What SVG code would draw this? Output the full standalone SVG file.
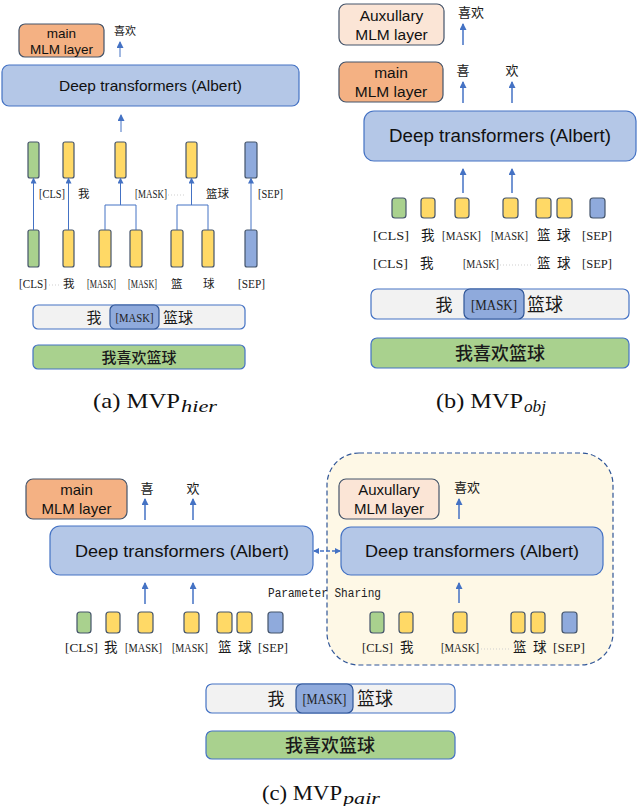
<svg xmlns="http://www.w3.org/2000/svg" width="640" height="806" viewBox="0 0 640 806">
<style>
.bg{fill:#ffffff}
.dt{fill:#B4C7E7;stroke:#4472C4;stroke-width:1.2}
.main{fill:#F4B183;stroke:#44546A;stroke-width:1.2}
.aux{fill:#FBE5D6;stroke:#44546A;stroke-width:1.2}
.tg{fill:#A9D18E;stroke:#44546A;stroke-width:1.2}
.ty{fill:#FFD966;stroke:#44546A;stroke-width:1.2}
.tb{fill:#8FAADC;stroke:#44546A;stroke-width:1.2}
.inp{fill:#F2F2F2;stroke:#4472C4;stroke-width:1.2}
.msk{fill:#8FAADC;stroke:#2F5597;stroke-width:1.2}
.grn{fill:#A9D18E;stroke:#4472C4;stroke-width:1.2}
.sans{font-family:"Liberation Sans","Noto Sans",Arial,sans-serif;fill:#111}
.cjk{font-family:"Noto Sans CJK SC",sans-serif;fill:#1a1a1a}
.lab{font-family:"Liberation Serif","Noto Sans CJK SC",serif;fill:#222}
.cap{font-family:"Liberation Serif",serif;fill:#111}
.mono{font-family:"Liberation Mono",monospace;fill:#222}
.con{stroke:#4472C4;fill:none}
.dots{stroke:#cfcfcf;stroke-dasharray:1 2;stroke-width:1}
</style>
<defs>
<marker id="ah" markerUnits="userSpaceOnUse" markerWidth="7" markerHeight="7" refX="6" refY="3.5" orient="auto">
<path d="M0,0 L7,3.5 L0,7 z" fill="#4472C4"/>
</marker>
<marker id="ahs" markerUnits="userSpaceOnUse" markerWidth="6" markerHeight="6" refX="5" refY="3" orient="auto-start-reverse">
<path d="M0,0 L6,3 L0,6 z" fill="#4472C4"/>
</marker>
</defs>
<rect class="bg" x="0" y="0" width="640" height="806"/>

<!-- ===== Panel (a) ===== -->
<g id="a-main">
<rect class="main" x="19" y="24" width="85" height="33" rx="6"/>
<text class="sans" x="61.5" y="38" font-size="13.5" text-anchor="middle">main</text>
<text class="sans" x="61.5" y="53.5" font-size="13.5" text-anchor="middle">MLM layer</text>
</g>
<g id="a-out"><text class="cjk" x="114" y="35" font-size="11">喜欢</text></g>
<g id="a-dt">
<rect class="dt" x="2" y="65" width="297" height="41" rx="7"/>
<text class="sans" x="150.5" y="91" font-size="14.5" text-anchor="middle" textLength="183" lengthAdjust="spacingAndGlyphs">Deep transformers (Albert)</text>
</g>
<g id="a-top-tokens">
<rect class="tg" x="28" y="142" width="11" height="36" rx="2"/>
<rect class="ty" x="63" y="142" width="11" height="36" rx="2"/>
<rect class="ty" x="115" y="142" width="11" height="36" rx="2"/>
<rect class="ty" x="186" y="142" width="11" height="36" rx="2"/>
<rect class="tb" x="245" y="142" width="12" height="36" rx="2"/>
</g>
<g id="a-mid-labels">
<text class="lab" x="39" y="198" font-size="12.5" textLength="26" lengthAdjust="spacingAndGlyphs">[CLS]</text>
<text class="cjk" x="78" y="198" font-size="11.5">我</text>
<text class="lab" x="135" y="198" font-size="12.5" textLength="32" lengthAdjust="spacingAndGlyphs">[MASK]</text>
<text class="cjk" x="206" y="198" font-size="11.5">篮球</text>
<text class="lab" x="258" y="198" font-size="12.5" textLength="25" lengthAdjust="spacingAndGlyphs">[SEP]</text>
</g>
<g id="a-bottom-tokens">
<rect class="tg" x="28" y="230" width="11" height="37" rx="2"/>
<rect class="ty" x="63" y="230" width="11" height="37" rx="2"/>
<rect class="ty" x="99" y="230" width="12" height="37" rx="2"/>
<rect class="ty" x="130" y="230" width="12" height="37" rx="2"/>
<rect class="ty" x="171" y="230" width="12" height="37" rx="2"/>
<rect class="ty" x="202" y="230" width="12" height="37" rx="2"/>
<rect class="tb" x="245" y="230" width="12" height="37" rx="2"/>
</g>
<g id="a-bottom-labels">
<text class="lab" x="19" y="288" font-size="12.5" textLength="28" lengthAdjust="spacingAndGlyphs">[CLS]</text>
<text class="cjk" x="63" y="288" font-size="11.5">我</text>
<text class="lab" x="87" y="288" font-size="12.5" textLength="29" lengthAdjust="spacingAndGlyphs">[MASK]</text>
<text class="lab" x="128" y="288" font-size="12.5" textLength="29" lengthAdjust="spacingAndGlyphs">[MASK]</text>
<text class="cjk" x="171" y="288" font-size="11.5">篮</text>
<text class="cjk" x="203" y="288" font-size="11.5">球</text>
<text class="lab" x="238" y="288" font-size="12.5" textLength="27" lengthAdjust="spacingAndGlyphs">[SEP]</text>
</g>
<g id="a-input">
<rect class="inp" x="33" y="305" width="212" height="24" rx="5"/>
<rect class="msk" x="110" y="305" width="49" height="24" rx="5"/>
<text class="cjk" x="94" y="322.5" font-size="15" text-anchor="middle">我</text>
<text class="lab" x="134.5" y="321.5" font-size="12.5" text-anchor="middle" textLength="38" lengthAdjust="spacingAndGlyphs">[MASK]</text>
<text class="cjk" x="163" y="322.5" font-size="15">篮球</text>
</g>
<g id="a-target">
<rect class="grn" x="33" y="345" width="212" height="24" rx="5"/>
<text class="cjk" x="139" y="362.5" font-size="15" font-weight="500" text-anchor="middle">我喜欢篮球</text>
</g>
<g id="a-caption">
<text class="cap" x="93" y="408" font-size="21" textLength="87" lengthAdjust="spacingAndGlyphs">(a) MVP</text>
<text class="cap" x="181" y="412" font-size="16" font-style="italic" textLength="36" lengthAdjust="spacingAndGlyphs">hier</text>
</g>

<!-- ===== Panel (b) ===== -->
<g id="b-aux">
<rect class="aux" x="339" y="4" width="105" height="41" rx="7"/>
<text class="sans" x="391.5" y="21" font-size="15.5" text-anchor="middle">Auxullary</text>
<text class="sans" x="391.5" y="40" font-size="15.5" text-anchor="middle">MLM layer</text>
</g>
<g id="b-aux-out"><text class="cjk" x="458" y="17" font-size="13">喜欢</text></g>
<g id="b-main">
<rect class="main" x="339" y="62" width="104" height="40" rx="7"/>
<text class="sans" x="391" y="78" font-size="15.5" text-anchor="middle">main</text>
<text class="sans" x="391" y="97" font-size="15.5" text-anchor="middle">MLM layer</text>
</g>
<g id="b-main-out">
<text class="cjk" x="463" y="75" font-size="13" text-anchor="middle">喜</text>
<text class="cjk" x="512" y="75" font-size="13" text-anchor="middle">欢</text>
</g>
<g id="b-dt">
<rect class="dt" x="364" y="111" width="272" height="50" rx="10"/>
<text class="sans" x="500" y="142" font-size="17.5" text-anchor="middle" textLength="222" lengthAdjust="spacingAndGlyphs">Deep transformers (Albert)</text>
</g>
<g id="b-tokens">
<rect class="tg" x="392" y="198" width="14" height="20" rx="3"/>
<rect class="ty" x="421" y="198" width="14" height="20" rx="3"/>
<rect class="ty" x="455" y="198" width="14" height="20" rx="3"/>
<rect class="ty" x="503" y="198" width="15" height="20" rx="3"/>
<rect class="ty" x="536" y="198" width="15" height="20" rx="3"/>
<rect class="ty" x="557" y="198" width="15" height="20" rx="3"/>
<rect class="tb" x="590" y="198" width="15" height="20" rx="3"/>
</g>
<g id="b-labels1">
<text class="lab" x="373" y="240" font-size="12.5" textLength="36" lengthAdjust="spacingAndGlyphs">[CLS]</text>
<text class="cjk" x="421" y="240" font-size="13.5">我</text>
<text class="lab" x="442" y="240" font-size="12.5" textLength="39" lengthAdjust="spacingAndGlyphs">[MASK]</text>
<text class="lab" x="491" y="240" font-size="12.5" textLength="37" lengthAdjust="spacingAndGlyphs">[MASK]</text>
<text class="cjk" x="537" y="240" font-size="13.5">篮</text>
<text class="cjk" x="557" y="240" font-size="13.5">球</text>
<text class="lab" x="582" y="240" font-size="12.5" textLength="30" lengthAdjust="spacingAndGlyphs">[SEP]</text>
</g>
<g id="b-labels2">
<text class="lab" x="373" y="268" font-size="12.5" textLength="35" lengthAdjust="spacingAndGlyphs">[CLS]</text>
<text class="cjk" x="420" y="268" font-size="13.5">我</text>
<text class="lab" x="463" y="268" font-size="12.5" textLength="36" lengthAdjust="spacingAndGlyphs">[MASK]</text>
<text class="cjk" x="537" y="268" font-size="13.5">篮</text>
<text class="cjk" x="557" y="268" font-size="13.5">球</text>
<text class="lab" x="582" y="268" font-size="12.5" textLength="30" lengthAdjust="spacingAndGlyphs">[SEP]</text>
</g>
<g id="b-input">
<rect class="inp" x="371" y="289" width="258" height="30" rx="6"/>
<rect class="msk" x="464" y="289" width="60" height="30" rx="6"/>
<text class="cjk" x="444" y="310.5" font-size="17" text-anchor="middle">我</text>
<text class="lab" x="494" y="309.5" font-size="15" text-anchor="middle" textLength="46" lengthAdjust="spacingAndGlyphs">[MASK]</text>
<text class="cjk" x="527" y="310.5" font-size="18">篮球</text>
</g>
<g id="b-target">
<rect class="grn" x="371" y="338" width="258" height="30" rx="6"/>
<text class="cjk" x="500" y="359.5" font-size="18" font-weight="500" text-anchor="middle">我喜欢篮球</text>
</g>
<g id="b-caption">
<text class="cap" x="436" y="408" font-size="21" textLength="87" lengthAdjust="spacingAndGlyphs">(b) MVP</text>
<text class="cap" x="524" y="412" font-size="16" font-style="italic" textLength="22" lengthAdjust="spacingAndGlyphs">obj</text>
</g>

<!-- ===== Panel (c) ===== -->
<g id="c-shared">
<rect x="327" y="453" width="286" height="212" rx="32" fill="#FEF8E6" stroke="#2F5597" stroke-width="1.2" stroke-dasharray="5 3"/>
</g>
<g id="c-main">
<rect class="main" x="26" y="479" width="101" height="40" rx="7"/>
<text class="sans" x="76.5" y="495" font-size="15" text-anchor="middle">main</text>
<text class="sans" x="76.5" y="514" font-size="15" text-anchor="middle">MLM layer</text>
</g>
<g id="c-main-out">
<text class="cjk" x="147" y="493" font-size="13" text-anchor="middle">喜</text>
<text class="cjk" x="193" y="493" font-size="13" text-anchor="middle">欢</text>
</g>
<g id="c-dt-left">
<rect class="dt" x="50" y="526" width="263" height="49" rx="10"/>
<text class="sans" x="182" y="557" font-size="17" text-anchor="middle" textLength="214" lengthAdjust="spacingAndGlyphs">Deep transformers (Albert)</text>
</g>
<g id="c-tokens-left">
<rect class="tg" x="77" y="612" width="14" height="21" rx="3"/>
<rect class="ty" x="106" y="612" width="14" height="21" rx="3"/>
<rect class="ty" x="138" y="612" width="15" height="21" rx="3"/>
<rect class="ty" x="184" y="612" width="15" height="21" rx="3"/>
<rect class="ty" x="217" y="612" width="15" height="21" rx="3"/>
<rect class="ty" x="237" y="612" width="15" height="21" rx="3"/>
<rect class="tb" x="268" y="612" width="15" height="21" rx="3"/>
</g>
<g id="c-labels-left">
<text class="lab" x="65" y="652" font-size="12.5" textLength="33" lengthAdjust="spacingAndGlyphs">[CLS]</text>
<text class="cjk" x="104" y="652" font-size="13.5">我</text>
<text class="lab" x="125" y="652" font-size="12.5" textLength="37" lengthAdjust="spacingAndGlyphs">[MASK]</text>
<text class="lab" x="172" y="652" font-size="12.5" textLength="36" lengthAdjust="spacingAndGlyphs">[MASK]</text>
<text class="cjk" x="218" y="652" font-size="13.5">篮</text>
<text class="cjk" x="238" y="652" font-size="13.5">球</text>
<text class="lab" x="258" y="652" font-size="12.5" textLength="30" lengthAdjust="spacingAndGlyphs">[SEP]</text>
</g>
<g id="c-aux">
<rect class="aux" x="339" y="479" width="100" height="40" rx="7"/>
<text class="sans" x="389" y="495" font-size="15" text-anchor="middle">Auxullary</text>
<text class="sans" x="389" y="514" font-size="15" text-anchor="middle">MLM layer</text>
</g>
<g id="c-aux-out"><text class="cjk" x="454" y="492" font-size="13">喜欢</text></g>
<g id="c-dt-right">
<rect class="dt" x="341" y="527" width="262" height="48" rx="10"/>
<text class="sans" x="472" y="557" font-size="17" text-anchor="middle" textLength="214" lengthAdjust="spacingAndGlyphs">Deep transformers (Albert)</text>
</g>
<g id="c-tokens-right">
<rect class="tg" x="370" y="612" width="14" height="21" rx="3"/>
<rect class="ty" x="399" y="612" width="14" height="21" rx="3"/>
<rect class="ty" x="453" y="612" width="14" height="21" rx="3"/>
<rect class="ty" x="511" y="612" width="14" height="21" rx="3"/>
<rect class="ty" x="531" y="612" width="14" height="21" rx="3"/>
<rect class="tb" x="562" y="612" width="15" height="21" rx="3"/>
</g>
<g id="c-labels-right">
<text class="lab" x="362" y="652" font-size="12.5" textLength="31" lengthAdjust="spacingAndGlyphs">[CLS]</text>
<text class="cjk" x="400" y="652" font-size="13.5">我</text>
<text class="lab" x="441" y="652" font-size="12.5" textLength="38" lengthAdjust="spacingAndGlyphs">[MASK]</text>
<text class="cjk" x="513" y="652" font-size="13.5">篮</text>
<text class="cjk" x="533" y="652" font-size="13.5">球</text>
<text class="lab" x="553" y="652" font-size="12.5" textLength="32" lengthAdjust="spacingAndGlyphs">[SEP]</text>
</g>
<g id="c-param"><text class="mono" x="268" y="597" font-size="12.5" textLength="113" lengthAdjust="spacingAndGlyphs">Parameter Sharing</text></g>
<g id="c-input">
<rect class="inp" x="206" y="684" width="249" height="29" rx="6"/>
<rect class="msk" x="296" y="684" width="57" height="29" rx="6"/>
<text class="cjk" x="276" y="705" font-size="17" text-anchor="middle">我</text>
<text class="lab" x="324.5" y="704" font-size="15" text-anchor="middle" textLength="44" lengthAdjust="spacingAndGlyphs">[MASK]</text>
<text class="cjk" x="357" y="705" font-size="18">篮球</text>
</g>
<g id="c-target">
<rect class="grn" x="206" y="731" width="249" height="28" rx="6"/>
<text class="cjk" x="330" y="751.5" font-size="18" font-weight="500" text-anchor="middle">我喜欢篮球</text>
</g>
<g id="c-caption">
<text class="cap" x="262" y="800" font-size="21" textLength="80" lengthAdjust="spacingAndGlyphs">(c) MVP</text>
<text class="cap" x="343" y="804" font-size="16" font-style="italic" textLength="37" lengthAdjust="spacingAndGlyphs">pair</text>
</g>

<!-- ===== Connectors ===== -->
<g id="connectors">
<line class="con" x1="120" y1="57" x2="120" y2="42" marker-end="url(#ah)"/>
<line class="con" x1="121" y1="132" x2="121" y2="115" marker-end="url(#ah)"/>
<line class="con" x1="33.5" y1="230" x2="33.5" y2="178.5" marker-end="url(#ahs)"/>
<line class="con" x1="68.5" y1="230" x2="68.5" y2="178.5" marker-end="url(#ahs)"/>
<path class="con" d="M105,230 V205 H136 V230"/>
<line class="con" x1="120.5" y1="205" x2="120.5" y2="178.5" marker-end="url(#ahs)"/>
<path class="con" d="M177,230 V205 H208 V230"/>
<line class="con" x1="191.5" y1="205" x2="191.5" y2="178.5" marker-end="url(#ahs)"/>
<line class="con" x1="251" y1="230" x2="251" y2="178.5" marker-end="url(#ahs)"/>
<line class="dots" x1="168" y1="195" x2="185" y2="195"/>
<line class="dots" x1="49" y1="285" x2="60" y2="285"/>

<line class="con" stroke-width="1.5" x1="463" y1="45" x2="463" y2="24" marker-end="url(#ah)"/>
<line class="con" stroke-width="1.5" x1="463" y1="103" x2="463" y2="82" marker-end="url(#ah)"/>
<line class="con" stroke-width="1.5" x1="512" y1="103" x2="512" y2="82" marker-end="url(#ah)"/>
<line class="con" stroke-width="1.5" x1="463" y1="193" x2="463" y2="169" marker-end="url(#ah)"/>
<line class="con" stroke-width="1.5" x1="512" y1="193" x2="512" y2="169" marker-end="url(#ah)"/>
<line class="dots" x1="500" y1="265" x2="531" y2="265"/>

<line class="con" stroke-width="1.5" x1="145" y1="520" x2="145" y2="499" marker-end="url(#ah)"/>
<line class="con" stroke-width="1.5" x1="193" y1="520" x2="193" y2="499" marker-end="url(#ah)"/>
<line class="con" stroke-width="1.5" x1="145" y1="604" x2="145" y2="583" marker-end="url(#ah)"/>
<line class="con" stroke-width="1.5" x1="193" y1="604" x2="193" y2="583" marker-end="url(#ah)"/>
<line class="con" stroke-width="1.5" x1="459" y1="519" x2="459" y2="499" marker-end="url(#ah)"/>
<line class="con" stroke-width="1.5" x1="459" y1="603" x2="459" y2="583" marker-end="url(#ah)"/>
<line class="con" stroke-width="1.5" stroke-dasharray="4 2" x1="314" y1="551" x2="340" y2="551" marker-start="url(#ahs)" marker-end="url(#ahs)"/>
<line class="dots" x1="481" y1="649" x2="509" y2="649"/>
</g>
</svg>
